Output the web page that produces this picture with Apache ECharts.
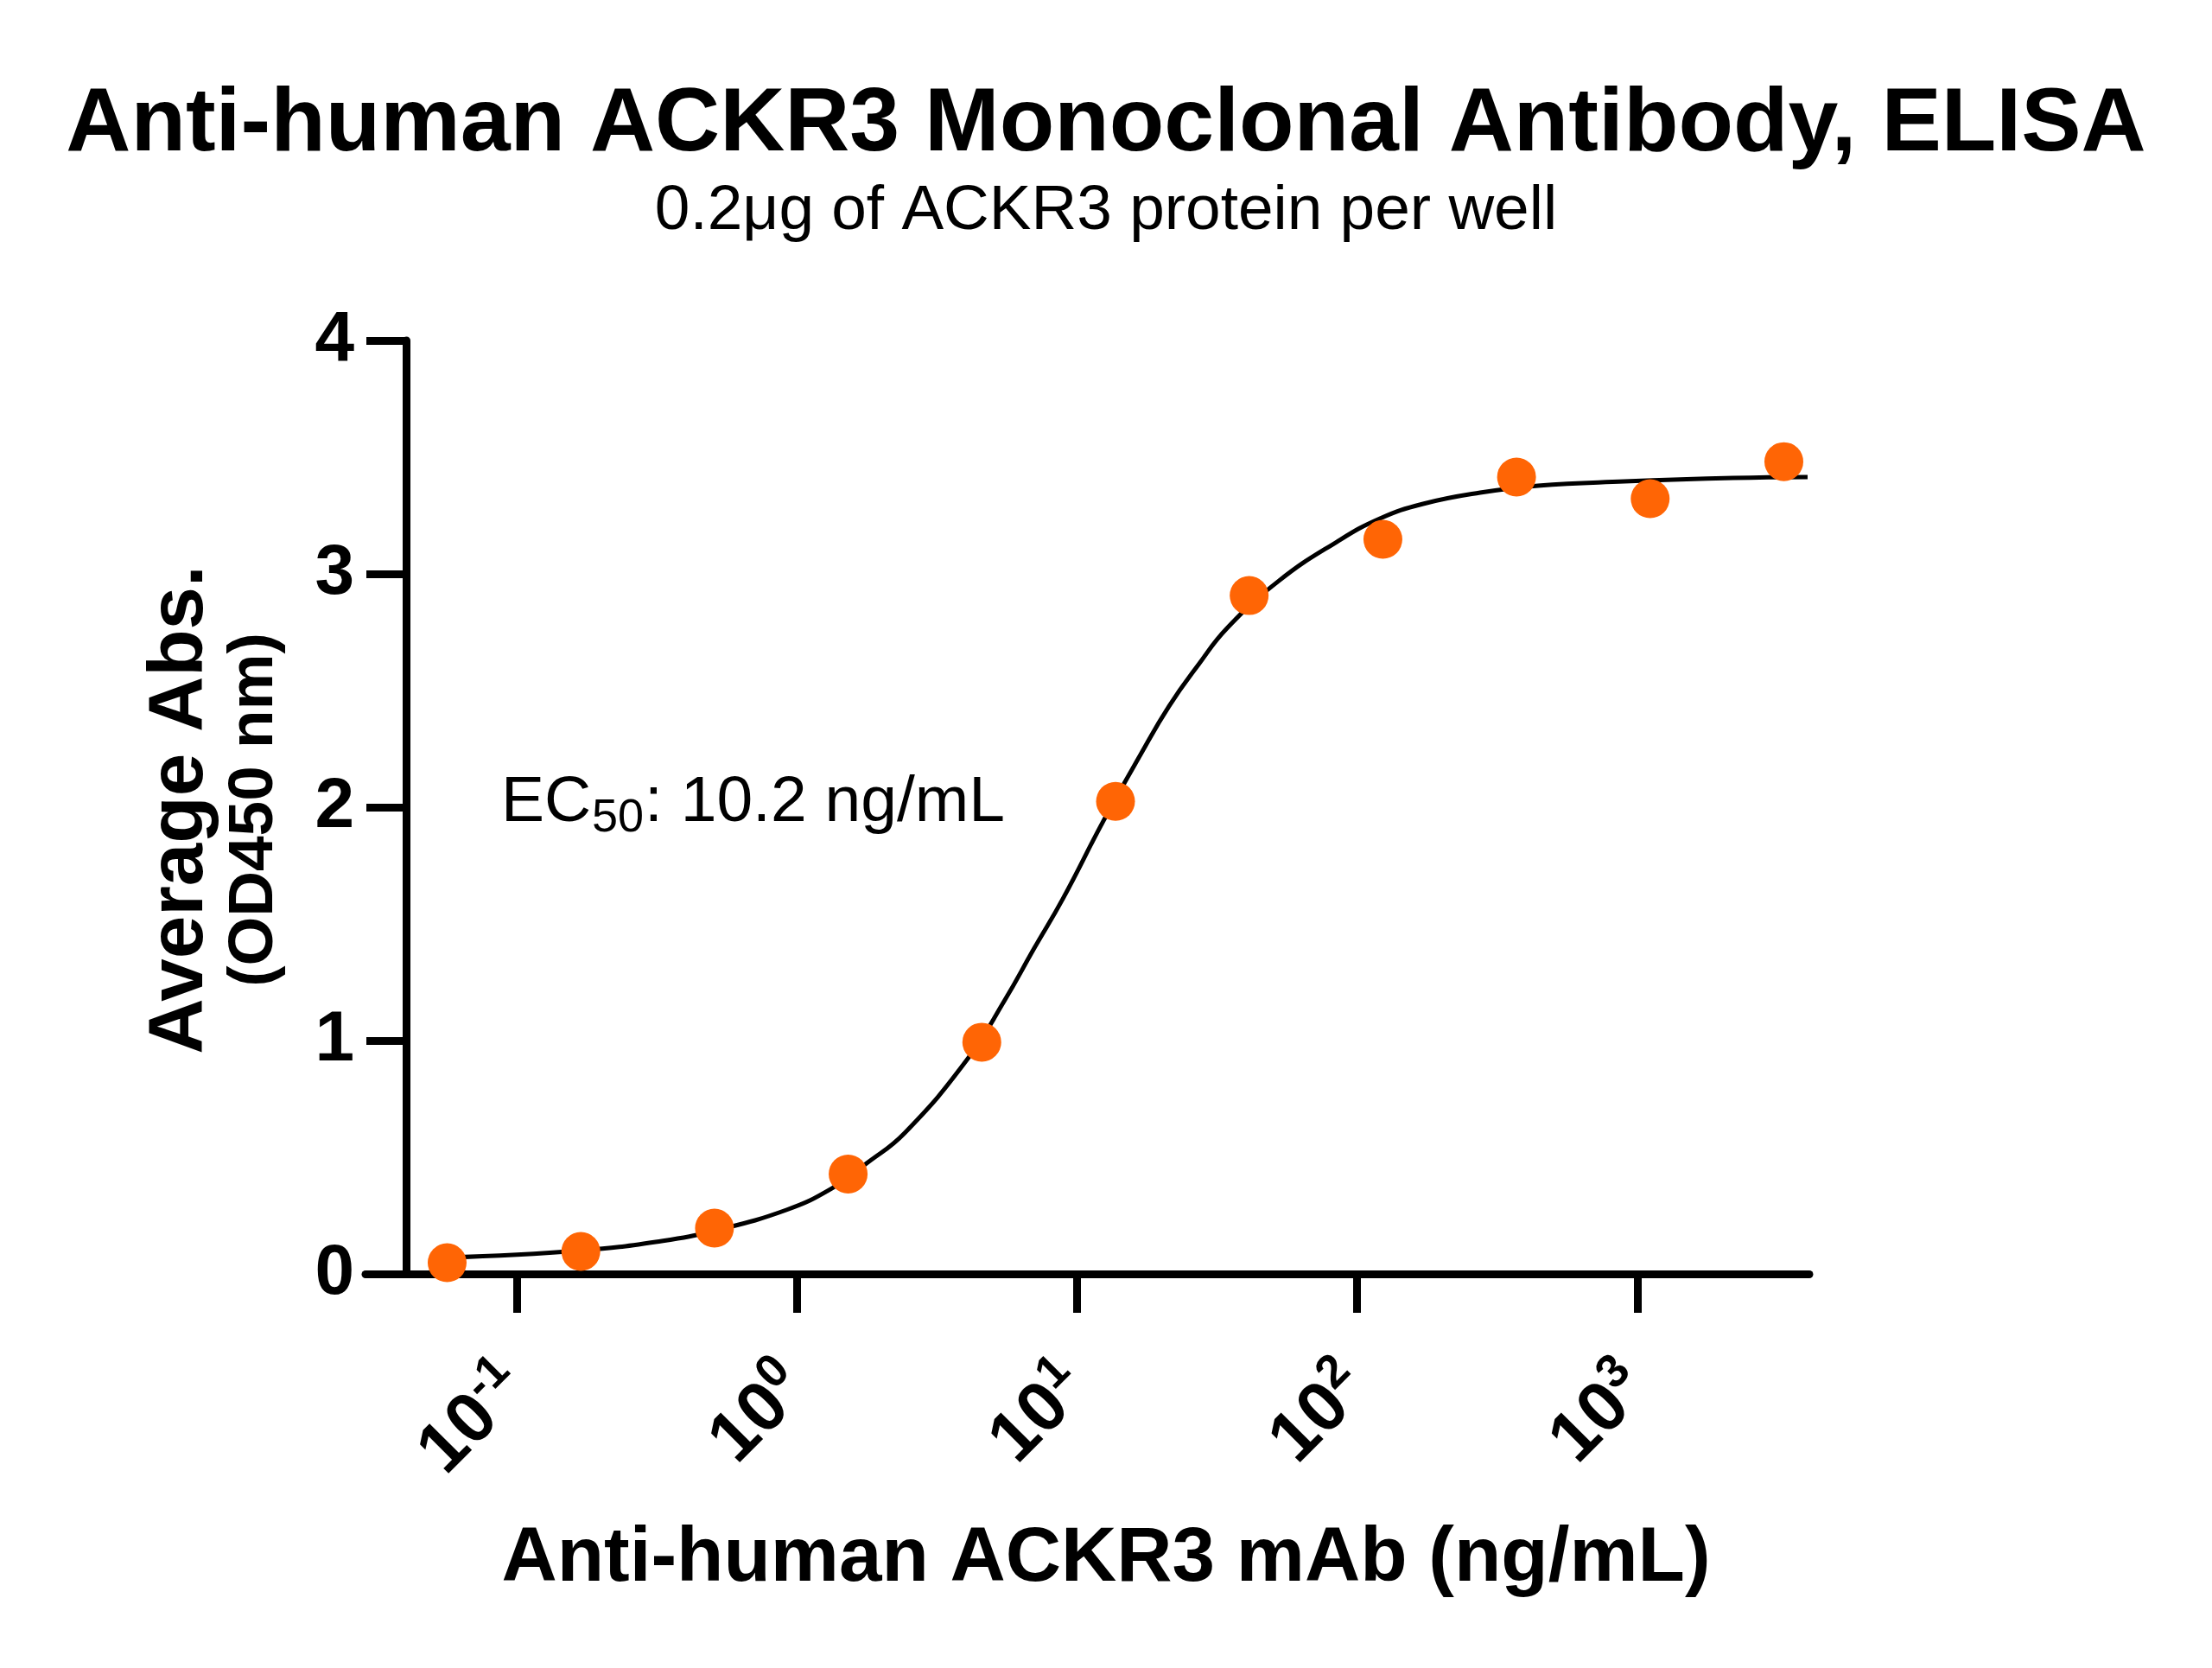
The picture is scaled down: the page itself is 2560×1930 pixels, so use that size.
<!DOCTYPE html>
<html>
<head>
<meta charset="utf-8">
<title>Anti-human ACKR3 Monoclonal Antibody, ELISA</title>
<script src="https://cdn.jsdelivr.net/npm/echarts@6/dist/echarts.min.js"></script>
<style>
  html, body { margin: 0; padding: 0; background: #fff; }
  #chart { width: 2560px; height: 1930px; }
</style>
</head>
<body>
<div id="chart"></div>
<script>
// measured points (ng/mL, OD450)
var concentration = [0.05645, 0.1694, 0.5081, 1.524, 4.572, 13.72, 41.15, 123.5, 370.4, 1111, 3333];
var absorbance = [0.048, 0.096, 0.196, 0.428, 0.993, 2.025, 2.907, 3.148, 3.415, 3.322, 3.481];

// fitted curve
var fitX = [0.0563, 0.169, 0.329, 0.508, 0.917, 1.336, 1.774, 2.425, 4.073, 5.527, 7.037, 8.895, 12.42,
    16.86, 21.30, 27.13, 34.28, 52.50, 84.51, 120.5, 171.9, 274.6, 441.9, 898.9, 2199, 4051];
var fitY = [0.070, 0.100, 0.141, 0.185, 0.274, 0.367, 0.474, 0.604, 0.922, 1.174, 1.396, 1.607, 1.941,
    2.226, 2.433, 2.611, 2.767, 2.970, 3.137, 3.237, 3.300, 3.348, 3.378, 3.396, 3.411, 3.415];

var xTicks = [0.1, 1, 10, 100, 1000];

var FONT = '"Liberation Sans", Arial, Helvetica, sans-serif';

var points = [];
for (var i = 0; i < concentration.length; i++) {
    points.push([concentration[i], absorbance[i]]);
}
var curve = [];
for (var j = 0; j < fitX.length; j++) {
    curve.push([fitX[j], fitY[j]]);
}

var myChart = echarts.init(document.getElementById('chart'), null, { renderer: 'canvas' });

var option = {
    backgroundColor: '#ffffff',
    animation: false,
    grid: {
        left: 423,
        right: 466,
        top: 394,
        bottom: 456,
        outerBoundsMode: 'none'
    },
    xAxis: {
        type: 'log',
        logBase: 10,
        min: 0.02886,
        max: 4110,
        axisLine: { show: true, onZero: false, lineStyle: { color: '#000', width: 9 } },
        axisTick: { show: true, customValues: xTicks, length: 45, lineStyle: { color: '#000', width: 9 } },
        minorTick: { show: false },
        splitLine: { show: false },
        axisLabel: {
            customValues: xTicks,
            rotate: 45,
            margin: 120,
            color: '#000',
            formatter: function (value) {
                var e = Math.round(Math.log(value) / Math.LN10);
                return '{b|10}{s|' + e + '}';
            },
            rich: {
                b: { fontFamily: FONT, fontWeight: 'bold', fontSize: 82, lineHeight: 100, color: '#000' },
                s: { fontFamily: FONT, fontWeight: 'bold', fontSize: 54, lineHeight: 54, verticalAlign: 'top', color: '#000' }
            }
        }
    },
    yAxis: {
        type: 'value',
        min: 0,
        max: 4,
        interval: 1,
        offset: -47,
        axisLine: { show: true, lineStyle: { color: '#000', width: 9 } },
        axisTick: { show: true, length: 46, lineStyle: { color: '#000', width: 9 } },
        splitLine: { show: false },
        axisLabel: {
            margin: 60,
            color: '#000',
            fontFamily: FONT,
            fontWeight: 'bold',
            fontSize: 82
        }
    },
    graphic: [
        {
            type: 'text', x: 1280, y: 145,
            style: { text: 'Anti-human ACKR3 Monoclonal Antibody, ELISA', fill: '#000',
                font: 'bold 104px ' + FONT, textAlign: 'center', textVerticalAlign: 'middle' }
        },
        {
            type: 'text', x: 1280, y: 245,
            style: { text: '0.2μg of ACKR3 protein per well', fill: '#000',
                font: '73px ' + FONT, textAlign: 'center', textVerticalAlign: 'middle' }
        },
        {
            type: 'text', x: 1280, y: 1804,
            style: { text: 'Anti-human ACKR3 mAb (ng/mL)', fill: '#000',
                font: 'bold 89px ' + FONT, textAlign: 'center', textVerticalAlign: 'middle' }
        },
        {
            type: 'text', x: 209, y: 937, rotation: Math.PI / 2,
            style: { text: 'Average Abs.', fill: '#000',
                font: 'bold 89px ' + FONT, textAlign: 'center', textVerticalAlign: 'middle' }
        },
        {
            type: 'text', x: 295, y: 937, rotation: Math.PI / 2,
            style: { text: '(OD450 nm)', fill: '#000',
                font: 'bold 73px ' + FONT, textAlign: 'center', textVerticalAlign: 'middle' }
        },
        // EC50 annotation: main text, subscript, remainder
        {
            type: 'text', x: 580, y: 929,
            style: { text: 'EC', fill: '#000', font: '75px ' + FONT, textAlign: 'left', textVerticalAlign: 'middle' }
        },
        {
            type: 'text', x: 685, y: 947,
            style: { text: '50', fill: '#000', font: '54px ' + FONT, textAlign: 'left', textVerticalAlign: 'middle' }
        },
        {
            type: 'text', x: 746, y: 929,
            style: { text: ': 10.2 ng/mL', fill: '#000', font: '75px ' + FONT, textAlign: 'left', textVerticalAlign: 'middle' }
        }
    ],
    series: [
        {
            name: 'fit',
            type: 'line',
            data: curve,
            smooth: 0.45,
            showSymbol: false,
            symbol: 'none',
            lineStyle: { color: '#000', width: 5 },
            z: 2,
            silent: true
        },
        {
            name: 'ACKR3',
            type: 'scatter',
            data: points,
            symbol: 'circle',
            symbolSize: 45,
            itemStyle: { color: '#FF6505', opacity: 1 },
            z: 3
        }
    ]
};

myChart.setOption(option);
</script>
</body>
</html>
